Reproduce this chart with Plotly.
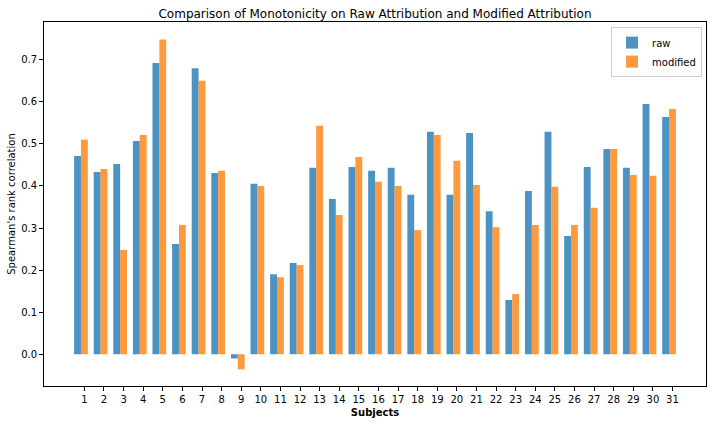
import plotly.graph_objects as go

subjects = list(range(1, 32))
tick_labels = [str(s) for s in subjects]
raw = [0.471, 0.433, 0.452, 0.507, 0.692, 0.262, 0.680, 0.431, -0.010, 0.405,
       0.190, 0.217, 0.443, 0.369, 0.445, 0.436, 0.443, 0.379, 0.529, 0.379,
       0.526, 0.340, 0.129, 0.388, 0.529, 0.281, 0.445, 0.488, 0.443, 0.595, 0.564]
modified = [0.510, 0.440, 0.248, 0.521, 0.748, 0.307, 0.650, 0.436, -0.036, 0.400,
            0.183, 0.212, 0.543, 0.331, 0.469, 0.410, 0.400, 0.295, 0.521, 0.460,
            0.402, 0.302, 0.143, 0.307, 0.398, 0.307, 0.348, 0.488, 0.426, 0.424, 0.583]

W = 0.35
FONT = "DejaVu Sans"

fig = go.Figure()
fig.add_trace(go.Bar(x=subjects, y=raw, name="raw", width=W, offset=-1.5 * W,
                     marker=dict(color="rgba(31,119,180,0.8)", line=dict(width=0))))
fig.add_trace(go.Bar(x=subjects, y=modified, name="modified", width=W, offset=-0.5 * W,
                     marker=dict(color="rgba(255,127,14,0.8)", line=dict(width=0))))

fig.update_layout(
    width=712, height=424,
    margin=dict(l=44, r=6, t=22, b=38, autoexpand=False),
    paper_bgcolor="white", plot_bgcolor="white",
    barmode="overlay",
    font=dict(family=FONT, size=10, color="black"),
    title=dict(text="Comparison of Monotonicity on Raw Attribution and Modified Attribution",
               x=0.5, xref="paper", xanchor="center", y=1 - 14 / 424, yref="container",
               yanchor="middle", automargin=False,
               font=dict(size=12, family=FONT, color="black")),
    legend=dict(x=0.994, y=0.986, xanchor="right", yanchor="top",
                bordercolor="#cccccc", borderwidth=1, bgcolor="rgba(255,255,255,0.8)",
                font=dict(size=10, family=FONT), tracegroupgap=0, itemwidth=30),
    showlegend=True,
)
fig.update_xaxes(
    range=[-1.06, 32.71], tickmode="array", tickvals=subjects, ticktext=tick_labels,
    automargin=False,
    showgrid=False, zeroline=False, showline=True, linecolor="black", linewidth=0.8,
    mirror=True, ticks="outside", ticklen=4, tickwidth=0.8, tickcolor="black",
    tickfont=dict(size=10, family=FONT),
    title=dict(text="<b>Subjects</b>", font=dict(size=10, family=FONT), standoff=5),
)
fig.update_yaxes(
    range=[-0.0755, 0.7897], tickmode="array", tickvals=[0, 0.1, 0.2, 0.3, 0.4, 0.5, 0.6, 0.7],
    ticktext=["0.0", "0.1", "0.2", "0.3", "0.4", "0.5", "0.6", "0.7"],
    automargin=False,
    showgrid=False, zeroline=False, showline=True, linecolor="black", linewidth=0.8,
    mirror=True, ticks="outside", ticklen=4, tickwidth=0.8, tickcolor="black",
    tickfont=dict(size=10, family=FONT),
    title=dict(text="Spearman's rank correlation", font=dict(size=10, family=FONT), standoff=3),
)

fig.write_html("out.html", config={"displayModeBar": False},
               post_script="document.body.style.margin='0';")
